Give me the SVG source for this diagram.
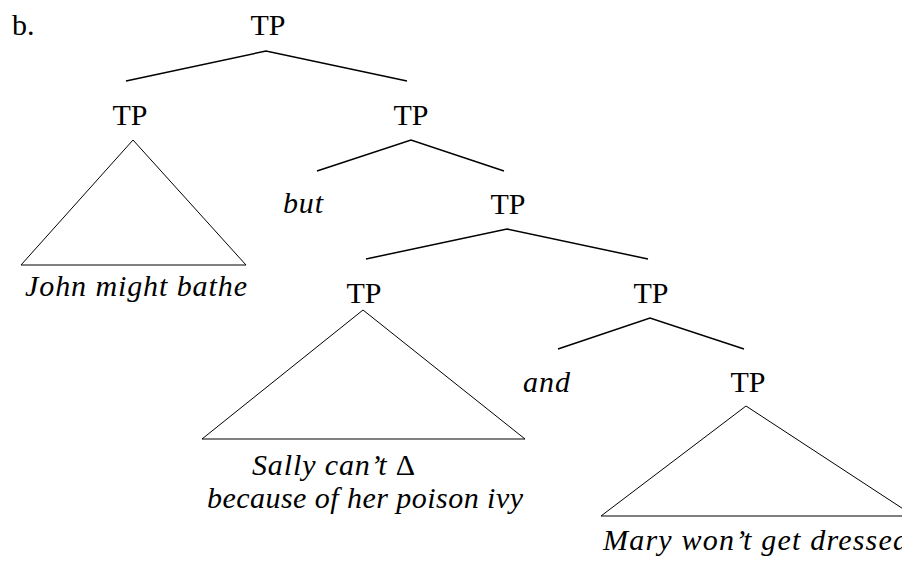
<svg xmlns="http://www.w3.org/2000/svg" width="902" height="561" viewBox="0 0 902 561">
<style>
text { font-family: "Liberation Serif", "Times New Roman", serif; font-size: 30px; fill: #000; }
.lbl { text-anchor: middle; }
.it { font-style: italic; }
.up { font-style: normal; }
.br { stroke: #000; stroke-width: 1.5; fill: none; }
.tri { stroke: #000; stroke-width: 1; fill: none; }
</style>
<rect width="902" height="561" fill="#fff"/>
<text x="12" y="35">b.</text>
<g id="tp-root"><text class="lbl" x="268" y="35">TP</text></g>
<g id="tp-john"><text class="lbl" x="130" y="125">TP</text></g>
<g id="tp-right1"><text class="lbl" x="411" y="125">TP</text></g>
<g id="but"><text class="it" x="283" y="213" textLength="40">but</text></g>
<g id="tp-right2"><text class="lbl" x="508" y="214">TP</text></g>
<g id="tp-sally"><text class="lbl" x="364" y="303">TP</text></g>
<g id="tp-right3"><text class="lbl" x="651" y="303">TP</text></g>
<g id="and"><text class="it" x="523" y="392" textLength="47">and</text></g>
<g id="tp-mary"><text class="lbl" x="748" y="392">TP</text></g>
<g id="john-tri">
<polygon class="tri" points="133,140 21,265 246,265"/>
<text class="it" x="25" y="296" textLength="222">John might bathe</text>
</g>
<g id="sally-tri">
<polygon class="tri" points="363,310 202,439 525,439"/>
<text class="it" x="252" y="475" textLength="163">Sally can’t <tspan class="up">Δ</tspan></text>
<text class="it" x="207" y="508" textLength="316">because of her poison ivy</text>
</g>
<g id="mary-tri">
<polygon class="tri" points="746,406 601,516 914,516"/>
<text class="it" x="603" y="550" textLength="305">Mary won’t get dressed</text>
</g>
<g id="connectors">
<polyline class="br" points="126,81 266,51 407,81"/>
<polyline class="br" points="317,171 411,140 504,171"/>
<polyline class="br" points="366,259 507,229 648,259"/>
<polyline class="br" points="558,349 650,318 744,349"/>
</g>
</svg>
